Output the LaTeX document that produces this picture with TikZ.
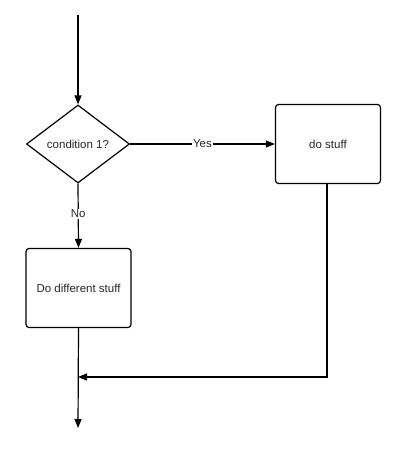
\documentclass[tikz,border=0pt]{standalone}
\usepackage{fontspec}
\setmainfont{Liberation Sans}
\usetikzlibrary{shapes.geometric,arrows.meta}
\begin{document}
\begin{tikzpicture}[x=1pt,y=-1pt,
  line width=1.2pt,
  txt/.style={font=\fontsize{11.5}{13}\selectfont,text=black!85},
  flow/.style={-{Triangle[length=9pt,width=7pt]}},
  procbox/.style={draw,rounded corners=3pt,minimum width=105pt,minimum height=79pt,txt},
  decision/.style={draw,diamond,minimum width=103pt,minimum height=78pt,inner sep=0pt,txt},
  lbl/.style={fill=white,inner sep=1pt,txt}]
\useasboundingbox (0,0) rectangle (408,450);
\coordinate (start) at (78,15);
\node[decision] (cond) at (78,144) {condition 1?};
\node[procbox] (stuff) at (328,144) {do stuff};
\node[procbox] (diff) at (78.5,288) {Do different stuff};
\coordinate (join) at (78,377);
\coordinate (turn) at (327,377);
\coordinate (stop) at (78,428);
\draw[flow] (start) -- (cond.north);
\draw[flow] (cond.east) -- node[lbl]{Yes} (stuff.west);
\draw[flow] (cond.south) -- node[lbl,pos=0.47]{No} (diff.north);
\draw[flow] (stuff.south -| turn) -- (turn) -- (join);
\draw[flow] (diff.south) -- (stop);
\end{tikzpicture}
\end{document}
